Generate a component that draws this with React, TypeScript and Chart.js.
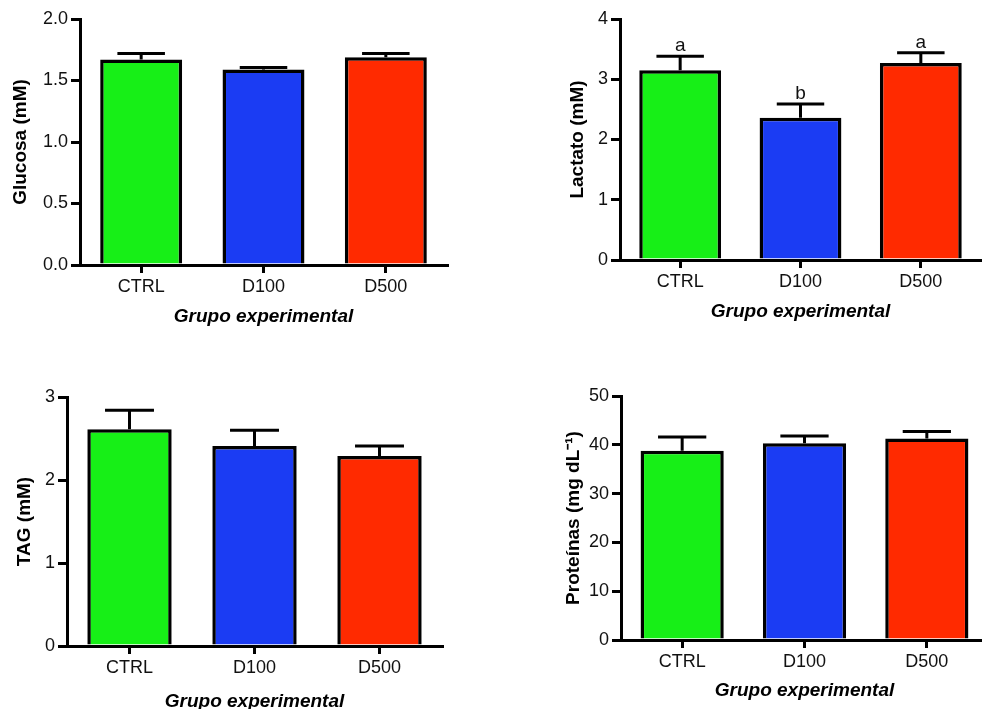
import React, { useEffect, useRef } from 'react';
import { Chart, registerables } from 'chart.js';

Chart.register(...registerables);

// ---------- data ----------
const categories = ['CTRL', 'D100', 'D500'];
const barColors = ['#17ef17', '#1b3cf3', '#ff2a00'];

const glucosaMean = [1.67, 1.59, 1.69];
const glucosaErr = [0.05, 0.015, 0.03];

const lactatoMean = [3.15, 2.36, 3.27];
const lactatoErr = [0.23, 0.23, 0.17];
const lactatoLetters = ['a', 'b', 'a'];

const tagMean = [2.61, 2.41, 2.29];
const tagErr = [0.23, 0.19, 0.12];

const protMean = [38.8, 40.3, 41.3];
const protErr = [2.8, 1.5, 1.4];

const xTitle = 'Grupo experimental';

// ---------- layout / style ----------
const FONT = "'Liberation Sans', Arial, Helvetica, sans-serif";
const TICK_SIZE = 18;
const TITLE_SIZE = 19;
const LETTER_SIZE = 19;

type PanelCfg = {
  left: number; top: number; width: number; height: number;
  area: { l: number; t: number; r: number; b: number };
  yTitleX: number; xTitleY: number;
  yTitle: string; max: number; step: number; decimals: number;
  mean: number[]; err: number[]; letters?: string[];
  barPct: number;
};

const panels: PanelCfg[] = [
  {
    left: 0, top: 0, width: 460, height: 345,
    area: { l: 80, t: 19, r: 447, b: 265 },
    yTitleX: 21, xTitleY: 317,
    yTitle: 'Glucosa (mM)', max: 2, step: 0.5, decimals: 1,
    mean: glucosaMean, err: glucosaErr, barPct: 0.67,
  },
  {
    left: 540, top: 0, width: 442, height: 345,
    area: { l: 620, t: 19, r: 981, b: 260 },
    yTitleX: 578, xTitleY: 312,
    yTitle: 'Lactato (mM)', max: 4, step: 1, decimals: 0,
    mean: lactatoMean, err: lactatoErr, letters: lactatoLetters, barPct: 0.68,
  },
  {
    left: 0, top: 380, width: 460, height: 350,
    area: { l: 67, t: 397, r: 442, b: 646 },
    yTitleX: 25, xTitleY: 702,
    yTitle: 'TAG (mM)', max: 3, step: 1, decimals: 0,
    mean: tagMean, err: tagErr, barPct: 0.675,
  },
  {
    left: 540, top: 380, width: 460, height: 350,
    area: { l: 621, t: 396, r: 988, b: 640 },
    yTitleX: 574, xTitleY: 691,
    yTitle: 'Proteínas (mg dL⁻¹)', max: 50, step: 10, decimals: 0,
    mean: protMean, err: protErr, barPct: 0.68,
  },
];

function Panel({ p }: { p: PanelCfg }) {
  const ref = useRef<HTMLCanvasElement>(null);

  useEffect(() => {
    if (!ref.current) return;
    const lh = TITLE_SIZE * 1.2;

    const errPlugin = {
      id: 'errbars',
      afterDatasetsDraw(chart: any) {
        const ctx = chart.ctx;
        const meta = chart.getDatasetMeta(0);
        const yScale = chart.scales.y;
        ctx.save();
        ctx.strokeStyle = '#000';
        ctx.lineWidth = 3;
        ctx.lineCap = 'butt';
        meta.data.forEach((bar: any, i: number) => {
          const x = bar.x;
          const yTop = bar.y;
          const yCap = yScale.getPixelForValue(p.mean[i] + p.err[i]);
          const half = bar.width * 0.29;
          ctx.beginPath();
          ctx.moveTo(x, yTop);
          ctx.lineTo(x, yCap);
          ctx.moveTo(x - half, yCap);
          ctx.lineTo(x + half, yCap);
          ctx.stroke();
          if (p.letters) {
            ctx.fillStyle = '#111';
            ctx.font = `${LETTER_SIZE}px ${FONT}`;
            ctx.textAlign = 'center';
            ctx.textBaseline = 'alphabetic';
            ctx.fillText(p.letters[i], x, yCap - 5);
          }
        });
        ctx.restore();
      },
    };

    const gridOpts = (tl: number) => ({
      display: true,
      drawOnChartArea: false,
      drawTicks: true,
      tickLength: tl,
      lineWidth: 3,
      color: '#000',
      offset: false,
    });
    const borderOpts = { display: true, color: '#000', width: 3, z: 1 };

    const chart = new Chart(ref.current, {
      type: 'bar',
      data: {
        labels: categories,
        datasets: [
          {
            data: p.mean,
            backgroundColor: barColors,
            borderColor: '#000',
            borderWidth: 3.5,
            borderSkipped: 'bottom',
            barPercentage: p.barPct,
            categoryPercentage: 1,
          },
        ],
      },
      options: {
        responsive: false,
        maintainAspectRatio: false,
        animation: false,
        devicePixelRatio: 1,
        layout: {
          padding: {
            top: p.area.t - p.top,
            right: p.left + p.width - p.area.r,
            left: 0,
            bottom: 0,
          },
        },
        plugins: { legend: { display: false }, tooltip: { enabled: false } },
        scales: {
          x: {
            offset: true,
            grid: gridOpts(8),
            border: borderOpts,
            ticks: {
              font: { family: FONT, size: TICK_SIZE },
              color: '#111',
              padding: 3,
              maxRotation: 0,
            },
            title: {
              display: true,
              text: xTitle,
              font: { family: FONT, size: TITLE_SIZE, weight: 'bold', style: 'italic' },
              color: '#000',
              padding: { top: 0, bottom: p.top + p.height - p.xTitleY - lh / 2 },
            },
            afterFit: (s: any) => {
              s.height = p.top + p.height - p.area.b;
            },
          },
          y: {
            min: 0,
            max: p.max,
            grid: gridOpts(9),
            border: borderOpts,
            ticks: {
              stepSize: p.step,
              font: { family: FONT, size: TICK_SIZE },
              color: '#111',
              padding: 3,
              callback: (v: any) => Number(v).toFixed(p.decimals),
            },
            title: {
              display: true,
              text: p.yTitle,
              font: { family: FONT, size: TITLE_SIZE, weight: 'bold' },
              color: '#000',
              padding: { top: p.yTitleX - p.left - lh / 2, bottom: 0 },
            },
            afterFit: (s: any) => {
              s.width = p.area.l - p.left;
            },
          },
        },
      } as any,
      plugins: [errPlugin],
    });
    return () => chart.destroy();
  }, []);

  return (
    <canvas
      ref={ref}
      width={p.width}
      height={p.height}
      style={{ position: 'absolute', left: p.left, top: p.top, width: p.width, height: p.height }}
    />
  );
}

export default function App() {
  return (
    <div
      style={{
        position: 'absolute',
        left: 0,
        top: 0,
        width: 982,
        height: 709,
        overflow: 'hidden',
        background: '#fff',
      }}
    >
      {panels.map((p, i) => (
        <Panel key={i} p={p} />
      ))}
    </div>
  );
}
